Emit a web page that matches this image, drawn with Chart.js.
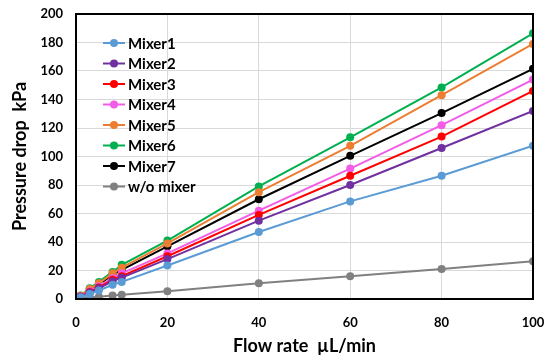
<!DOCTYPE html>
<html><head><meta charset="utf-8">
<script src="https://cdn.jsdelivr.net/npm/chart.js@4/dist/chart.umd.min.js"></script>
<style>html,body{margin:0;padding:0;background:#fff}#wrap{width:550px;height:361px}</style>
</head><body><div id="wrap"><canvas id="c" width="550" height="361"></canvas></div>
<script>
const flowRates = [0, 1, 3, 5, 8, 10, 20, 40, 60, 80, 100];
const seriesNames = ['Mixer1','Mixer2','Mixer3','Mixer4','Mixer5','Mixer6','Mixer7','w/o mixer'];
const mixer1 = [0, 1.2, 3.5, 6, 10, 12, 23.5, 47, 68.5, 86.5, 107.5];
const mixer2 = [0, 1.5, 4.5, 7.5, 12.5, 15, 28, 55, 80, 106, 132];
const mixer3 = [0, 1.6, 5, 8, 13.5, 16, 30, 59, 86.5, 114, 146];
const mixer4 = [0, 1.8, 5.5, 9, 14.5, 18, 32, 62, 91.5, 122, 154];
const mixer5 = [0, 2.3, 7, 11, 18, 22, 39, 75, 107.5, 143, 179];
const mixer6 = [0, 2.5, 7.5, 12, 19, 24, 41, 79, 113.5, 148.5, 186.5];
const mixer7 = [0, 2.1, 6.5, 10, 17, 20.5, 37, 70, 100.5, 130.5, 161.5];
const noMixer = [0, 0.3, 1, 1.5, 2.5, 3, 5.5, 11, 16, 21, 26.5];
const xTicks = [0, 20, 40, 60, 80, 100];
const yTicks = [0, 20, 40, 60, 80, 100, 120, 140, 160, 180, 200];

const colors = ['#5B9BD5','#7030A0','#FF0000','#F25CE6','#ED7D31','#00B050','#000000','#808080'];
const values = [mixer1, mixer2, mixer3, mixer4, mixer5, mixer6, mixer7, noMixer];

const datasets = seriesNames.map((n, i) => ({
  label: n,
  data: flowRates.map((x, j) => ({x: x, y: values[i][j]})),
  borderColor: colors[i], backgroundColor: colors[i],
  borderWidth: 2, pointRadius: 4, pointHoverRadius: 4, pointBorderWidth: 0,
  tension: 0
}));

const frameAndLegend = {
  id: 'frameAndLegend',
  afterDraw(chart) {
    const ctx = chart.ctx, a = chart.chartArea;
    ctx.save();
    ctx.strokeStyle = '#000'; ctx.lineWidth = 2;
    ctx.strokeRect(a.left, a.top, a.right - a.left, a.bottom - a.top);
    const x0 = 103, y0 = 43, dy = 20.5;
    ctx.font = 'bold 15px Lato, "Open Sans", sans-serif';
    ctx.textBaseline = 'middle';
    chart.data.datasets.forEach((ds, i) => {
      const y = y0 + i * dy;
      ctx.strokeStyle = ds.borderColor; ctx.lineWidth = 2;
      ctx.beginPath(); ctx.moveTo(x0, y); ctx.lineTo(x0 + 22, y); ctx.stroke();
      ctx.fillStyle = ds.borderColor;
      ctx.beginPath(); ctx.arc(x0 + 11, y, 4, 0, Math.PI * 2); ctx.fill();
      ctx.fillStyle = '#000';
      ctx.fillText(ds.label, x0 + 25, y + 1);
    });
    ctx.restore();
  }
};

new Chart(document.getElementById('c'), {
  type: 'line',
  data: { datasets: datasets },
  options: {
    responsive: false, animation: false,
    layout: { padding: { top: 14, right: 17, left: 0, bottom: 0 } },
    plugins: { legend: { display: false }, tooltip: { enabled: false } },
    scales: {
      x: {
        type: 'linear', min: 0, max: 100,
        afterBuildTicks(s) { s.ticks = xTicks.map(v => ({value: v})); },
        afterFit(s) { s.height = 62; s.paddingLeft = 0; s.paddingRight = 0; },
        grid: { color: '#D9D9D9', lineWidth: 1, drawTicks: false },
        border: { display: false },
        ticks: { color: '#000', padding: 16, font: { family: 'Lato, "Open Sans", sans-serif', size: 13, weight: 'bold' } },
        title: { display: true, text: 'Flow rate  µL/min', color: '#000', padding: { top: 2 }, font: { family: 'Lato, "Open Sans", sans-serif', size: 18, weight: 'bold' } }
      },
      y: {
        min: 0, max: 200,
        afterBuildTicks(s) { s.ticks = yTicks.map(v => ({value: v})); },
        afterFit(s) { s.width = 76; s.paddingTop = 0; s.paddingBottom = 0; },
        grid: { color: '#D9D9D9', lineWidth: 1, drawTicks: false },
        border: { display: false },
        ticks: { color: '#000', padding: 13, font: { family: 'Lato, "Open Sans", sans-serif', size: 13, weight: 'bold' } },
        title: { display: true, text: 'Pressure drop  kPa', color: '#000', padding: { top: 9, bottom: 4 }, font: { family: 'Lato, "Open Sans", sans-serif', size: 18, weight: 'bold' } }
      }
    }
  },
  plugins: [frameAndLegend]
});
</script></body></html>
